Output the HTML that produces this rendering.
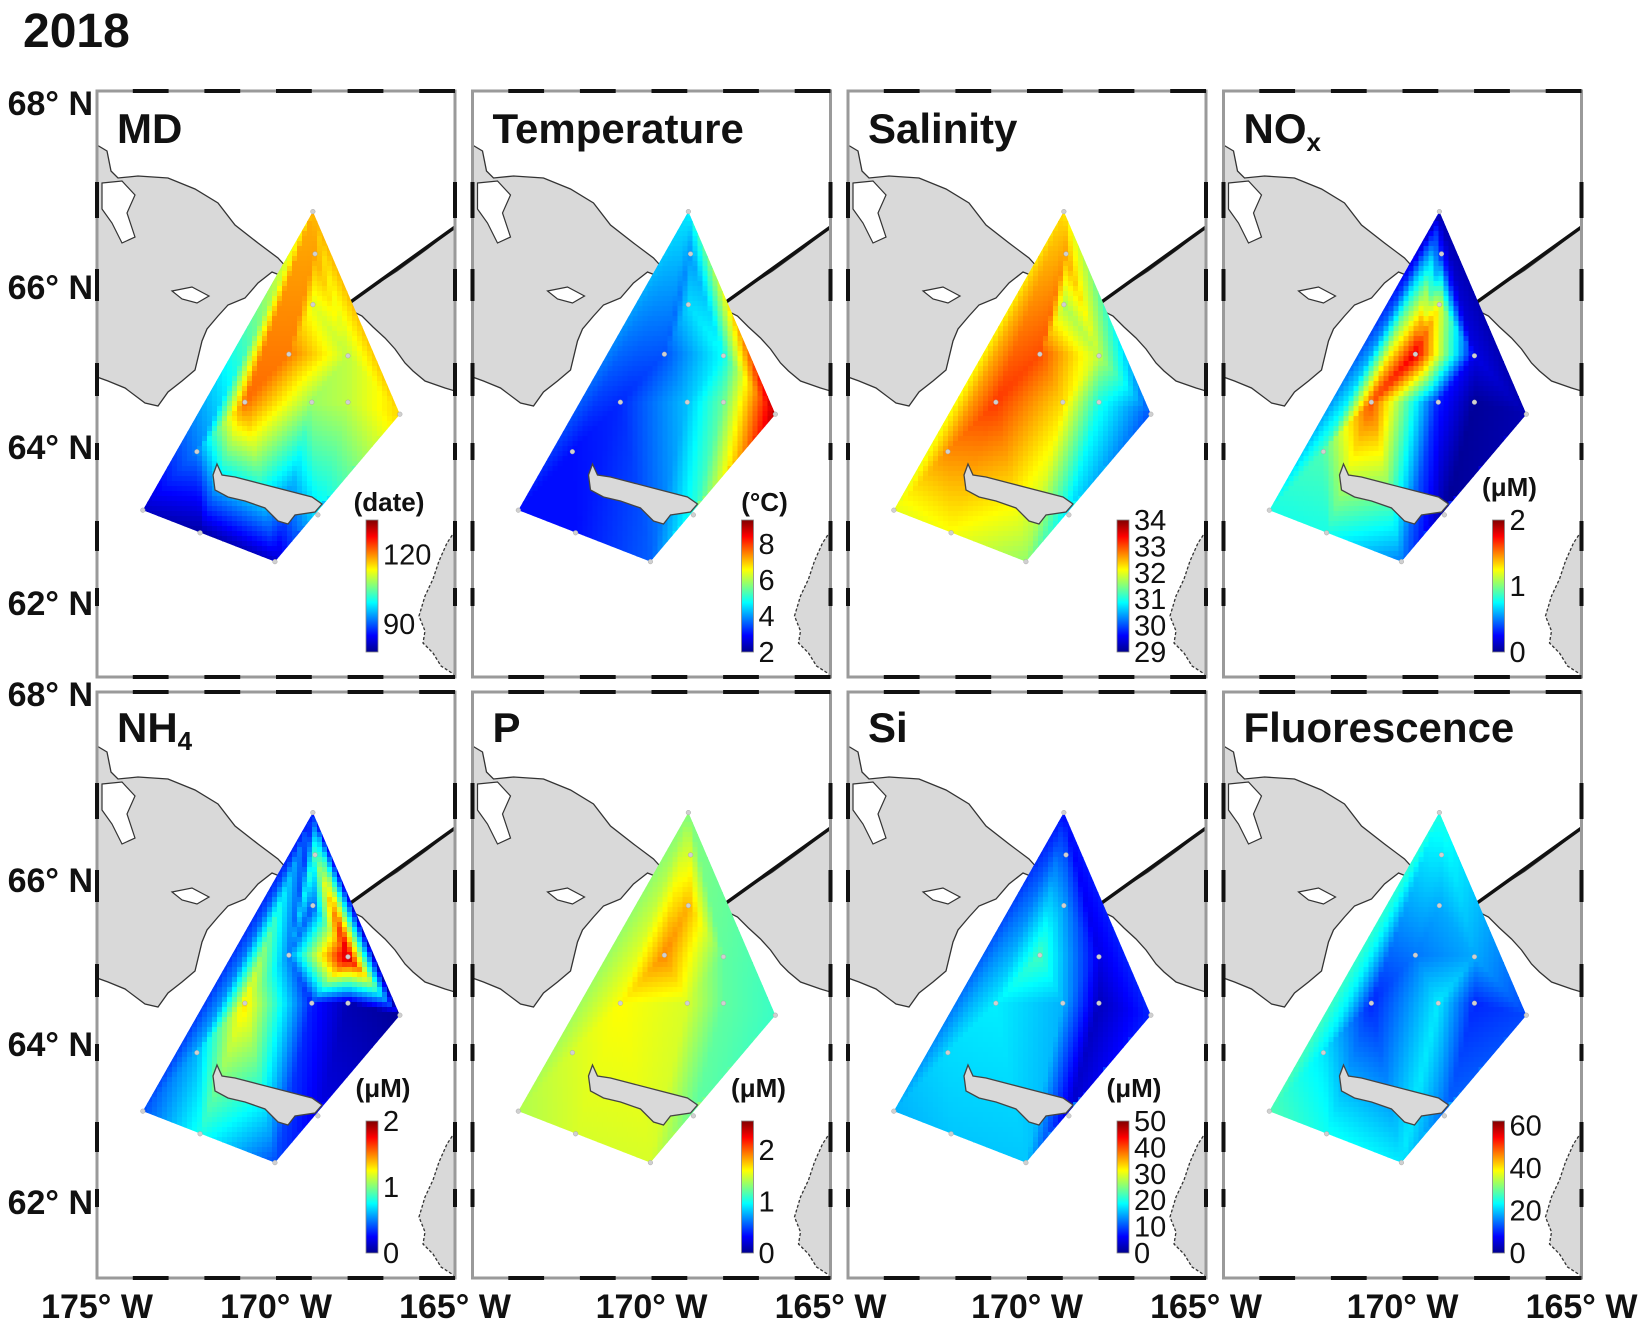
<!DOCTYPE html>
<html><head><meta charset="utf-8"><title>2018 Bering Strait maps</title>
<style>
html,body{margin:0;padding:0;background:#fff;}
svg{display:block;font-family:"Liberation Sans",Arial,sans-serif;}
</style></head>
<body>
<svg id="fig" width="1650" height="1324" viewBox="0 0 1650 1324" xmlns="http://www.w3.org/2000/svg">
<defs>
<linearGradient id="jetgrad" x1="0" y1="1" x2="0" y2="0">
<stop offset="0" stop-color="#00008f"/><stop offset="0.125" stop-color="#0000ff"/>
<stop offset="0.375" stop-color="#00ffff"/><stop offset="0.625" stop-color="#ffff00"/>
<stop offset="0.875" stop-color="#ff0000"/><stop offset="1" stop-color="#800000"/>
</linearGradient>
</defs>
<text x="23" y="47" font-size="48" font-weight="bold" fill="#111">2018</text>
</svg>
<script>
// ---- station data (lon, lat) ----
const stationLon = [-168.97,-168.91,-168.97,-169.64,-167.99,-170.87,-169.0,-167.99,-172.21,-173.72,-172.12,-170.03,-166.54,-168.83];
const stationLat = [66.82,66.36,65.78,65.16,65.14,64.56,64.56,64.56,63.94,63.19,62.9,62.53,64.41,63.13];
const kiteIdx = [0,12,11,9];
const triangles = [[0,1,4],[0,4,12],[1,2,4],[1,3,2],[0,3,1],[0,5,3],[0,8,5],[0,9,8],
  [2,3,4],[3,6,4],[3,5,6],[4,6,7],[4,7,12],[9,10,8],[8,10,5],[5,10,11],[5,11,6],
  [6,11,13],[6,13,7],[7,13,12],[13,11,12]];

// ---- per-panel values ----
const mdValues    = [118,119,112,121,110,122,108,110,92,82,80,82,116,98];
const tempValues  = [4.6,4.0,4.5,3.5,4.8,3.2,4.3,5.5,3.0,3.0,3.0,3.6,9.0,5.0];
const salValues   = [32.3,32.6,31.7,33.0,31.8,33.1,32.3,31.0,32.7,32.0,32.1,31.6,30.0,30.7];
const noxValues   = [0.1,0.3,1.2,1.8,0.2,1.6,0.3,0.05,0.9,0.8,0.8,0.5,0.1,0.05];
const nh4Values   = [0.3,0.9,0.4,0.5,1.9,1.3,0.3,0.1,0.6,0.4,0.8,0.4,0.05,0.2];
const pValues     = [1.3,1.5,1.8,1.9,1.2,1.6,1.5,1.2,1.5,1.4,1.5,1.5,1.1,1.2];
const siValues    = [7,10,14,22,5,18,15,3,17,15,16,16,8,4];
const fluoValues  = [25,22,18,15,18,10,22,10,22,28,24,22,12,14];

// ---- colorbar ranges & ticks ----
const mdRange = [78,135],   mdTicks = [90,120];
const tempRange = [2,9.33], tempTicks = [2,4,6,8];
const salRange = [29,34],   salTicks = [29,30,31,32,33,34];
const noxRange = [0,2],     noxTicks = [0,1,2];
const nh4Range = [0,2],     nh4Ticks = [0,1,2];
const pRange = [0,2.56],    pTicks = [0,1,2];
const siRange = [0,50],     siTicks = [0,10,20,30,40,50];
const fluoRange = [0,62],   fluoTicks = [0,20,40,60];

// ---- axis labels ----
const latTickLabels = ["68° N","66° N","64° N","62° N"];
const lonTickLabels = ["175° W","170° W","165° W"];

const NS="http://www.w3.org/2000/svg";
const svg=document.getElementById('fig');
function mk(tag,attrs,parent){const e=document.createElementNS(NS,tag);for(const k in attrs)e.setAttribute(k,attrs[k]);(parent||svg).appendChild(e);return e;}
const PW=358, PH=586;
const panelLeft=[97,472.5,848,1223.5], panelTop=[91,692];
function xOf(lon){return (lon+175)*35.8;}
const latKnots=[68,66,64,62], yKnots=[12,196,356,512];
function yOf(lat){
  let i=0; if(lat<66)i=1; if(lat<64)i=2;
  const t=(latKnots[i]-lat)/(latKnots[i]-latKnots[i+1]);
  return yKnots[i]+t*(yKnots[i+1]-yKnots[i]);
}
function clamp(v){return Math.max(0,Math.min(1,v));}
function jet(t){t=clamp(t);
  const r=clamp(1.5-Math.abs(4*t-3)),g=clamp(1.5-Math.abs(4*t-2)),b=clamp(1.5-Math.abs(4*t-1));
  return `rgb(${Math.round(r*255)},${Math.round(g*255)},${Math.round(b*255)})`;}
function pts(a){return a.map(p=>p.join(',')).join(' ');}

// map geometry (panel-local pixels)
const chukotka=[[0,54],[10,60],[14,80],[21,87],[41,85],[71,87],[98,98],[121,112],[138,134],[161,152],[181,167],[191,178],[185,185],[175,181],[161,192],[148,207],[131,214],[121,225],[110,238],[105,250],[98,279],[85,290],[71,301],[61,315],[48,312],[28,297],[11,290],[0,286]];
const bay=[[5,92],[25,90],[38,104],[30,122],[38,146],[25,152],[15,132],[5,118]];
const inlet=[[75,200],[95,196],[112,205],[100,212],[85,208]];
const alaska=[[248,215],[275,196],[300,180],[330,158],[358,136],[358,300],[348,297],[328,290],[316,280],[308,272],[298,258],[288,247],[276,236],[265,225],[255,220]];
const island=[[120,373],[125,384],[138,386],[161,392],[188,399],[215,406],[225,413],[218,421],[198,424],[191,433],[181,430],[168,417],[148,410],[131,406],[118,399],[116,384]];
const yukon=[[358,440],[350,452],[342,470],[336,488],[328,505],[322,525],[328,540],[326,552],[336,562],[344,575],[358,584]];
const leftDash=[[91,127],[178,210],[272,305],[352,369],[430,460],[497,515]];

const panels=[
 {title:"MD",sub:"",vals:mdValues,range:mdRange,ticks:mdTicks,unit:"(date)",name:"md"},
 {title:"Temperature",sub:"",vals:tempValues,range:tempRange,ticks:tempTicks,unit:"(°C)",name:"temperature"},
 {title:"Salinity",sub:"",vals:salValues,range:salRange,ticks:salTicks,unit:"",name:"salinity"},
 {title:"NO",sub:"x",vals:noxValues,range:noxRange,ticks:noxTicks,unit:"(μM)",name:"nox",unitTop:true},
 {title:"NH",sub:"4",vals:nh4Values,range:nh4Range,ticks:nh4Ticks,unit:"(μM)",name:"nh4",unitTop:true},
 {title:"P",sub:"",vals:pValues,range:pRange,ticks:pTicks,unit:"(μM)",name:"p",unitTop:true},
 {title:"Si",sub:"",vals:siValues,range:siRange,ticks:siTicks,unit:"(μM)",name:"si",unitTop:true},
 {title:"Fluorescence",sub:"",vals:fluoValues,range:fluoRange,ticks:fluoTicks,unit:"",name:"fluorescence"}
];

const sx=stationLon.map(xOf), sy=stationLat.map(yOf);
const kite=kiteIdx.map(i=>[sx[i],sy[i]]);

function bary(px,py,t){
  const [a,b,c]=t;const x1=sx[a],y1=sy[a],x2=sx[b],y2=sy[b],x3=sx[c],y3=sy[c];
  const d=(y2-y3)*(x1-x3)+(x3-x2)*(y1-y3);
  const l1=((y2-y3)*(px-x3)+(x3-x2)*(py-y3))/d;
  const l2=((y3-y1)*(px-x3)+(x1-x3)*(py-y3))/d;
  return [l1,l2,1-l1-l2];
}
function interp(px,py,vals){
  let best=null,bm=-1e9;
  for(const t of triangles){const l=bary(px,py,t);const m=Math.min(l[0],l[1],l[2]);if(m>bm){bm=m;best=[t,l];}}
  const [t,l]=best;let w=l.map(v=>Math.max(0,v));const s=w[0]+w[1]+w[2];
  return (w[0]*vals[t[0]]+w[1]*vals[t[1]]+w[2]*vals[t[2]])/s;
}

panels.forEach((P,pi)=>{
  const col=pi%4,row=Math.floor(pi/4);
  const g=mk('g',{transform:`translate(${panelLeft[col]},${panelTop[row]})`});
  
  
  const cp=mk('clipPath',{id:'pc'+pi},g); mk('rect',{x:0,y:0,width:PW,height:PH},cp);
  const ck=mk('clipPath',{id:'kc'+pi},g); mk('polygon',{points:pts(kite)},ck);
  const inner=mk('g',{'clip-path':`url(#pc${pi})`},g);
  mk('rect',{x:0,y:0,width:PW,height:PH,fill:'#fff'},inner);
  const land=mk('polygon',{points:pts(chukotka),fill:'#d9d9d9',stroke:'#333','stroke-width':1.3},inner);
  
  
  mk('polygon',{points:pts(bay),fill:'#fff',stroke:'#333','stroke-width':1.2},inner);
  mk('polygon',{points:pts(inlet),fill:'#fff',stroke:'#333','stroke-width':1.2},inner);
  const ak=mk('polygon',{points:pts(alaska),fill:'#d9d9d9',stroke:'#333','stroke-width':1.3},inner);
  
  
  const yk=mk('polygon',{points:pts(yukon),fill:'#d9d9d9',stroke:'#333','stroke-width':1.3,'stroke-dasharray':'3 2'},inner);
  
  
  mk('line',{x1:248,y1:215,x2:358,y2:136,stroke:'#111','stroke-width':3.5},inner);
  // heatmap
  const hm=mk('g',{'clip-path':`url(#kc${pi})`},inner);
  
  
  const step=5,[vmin,vmax]=P.range;
  for(let y=110;y<480;y+=step){for(let x=40;x<310;x+=step){
    const v=interp(x+step/2,y+step/2,P.vals);
    const c=mk('rect',{x:x,y:y,width:step+0.6,height:step+0.6,fill:jet((v-vmin)/(vmax-vmin))},hm);
    
    
  }}
  const isl=mk('polygon',{points:pts(island),fill:'#d9d9d9',stroke:'#444','stroke-width':1.3},inner);
  
  
  sx.forEach((x,k)=>{const d=mk('circle',{cx:x,cy:sy[k],r:2.3,fill:'#d0d0d0',stroke:'#aaa','stroke-width':0.5},inner);
    
    });
  // title
  const t=mk('text',{x:20,y:row===0?52:50,'font-size':42,'font-weight':'bold',fill:'#111'},g);
  
  
  t.textContent=P.title;
  if(P.sub){const ts=mk('tspan',{'font-size':26,dy:8},t);ts.textContent=P.sub;}
  // colorbar
  const cbx=269,cbt=429,cbb=561,cbh=cbb-cbt;
  const cb=mk('rect',{x:cbx,y:cbt,width:12,height:cbh,fill:'url(#jetgrad)',stroke:'#888','stroke-width':0.8},g);
  
  
  P.ticks.forEach(v=>{const ty=cbb-(v-vmin)/(vmax-vmin)*cbh;
    const tl=mk('text',{x:cbx+17,y:ty+10,'font-size':29,fill:'#111'},g);
    
    
    tl.textContent=String(v);});
  if(P.unit){const ut=mk('text',{x:P.unitTop?286:292,y:P.unitTop?405:420,'font-size':26,'font-weight':'bold','text-anchor':'middle',fill:'#111'},g);
    
    
    ut.textContent=P.unit;}
  // frame
  mk('rect',{x:0,y:0,width:PW,height:PH,fill:'none',stroke:'#9a9a9a','stroke-width':3},g);
  mk('line',{x1:0,y1:0,x2:PW,y2:0,stroke:'#111','stroke-width':4,'stroke-dasharray':'35.8 35.8','stroke-dashoffset':35.8},g);
  mk('line',{x1:0,y1:PH,x2:PW,y2:PH,stroke:'#111','stroke-width':4,'stroke-dasharray':'35.8 35.8','stroke-dashoffset':35.8},g);
  leftDash.forEach(s=>{mk('line',{x1:0,y1:s[0],x2:0,y2:s[1],stroke:'#111','stroke-width':4},g);
    mk('line',{x1:PW,y1:s[0],x2:PW,y2:s[1],stroke:'#111','stroke-width':4},g);});
});

// latitude labels
const latY=[[103,287,447,603],[694,880,1044,1202]];
latY.forEach(r=>r.forEach((y,i)=>{const l=mk('text',{x:93,y:y+12,'font-size':34,'font-weight':'bold','text-anchor':'end',fill:'#111'});
  
  
  l.textContent=latTickLabels[i];}));
// longitude labels
panelLeft.forEach((pl,c)=>{[0,1,2].forEach(i=>{if(c>0&&i===0)return;
  const x=pl+i*179;
  const l=mk('text',{x:x,y:1318,'font-size':34,'font-weight':'bold','text-anchor':'middle',fill:'#111'});
  
  
  l.textContent=lonTickLabels[i];});});
</script>
</body></html>
